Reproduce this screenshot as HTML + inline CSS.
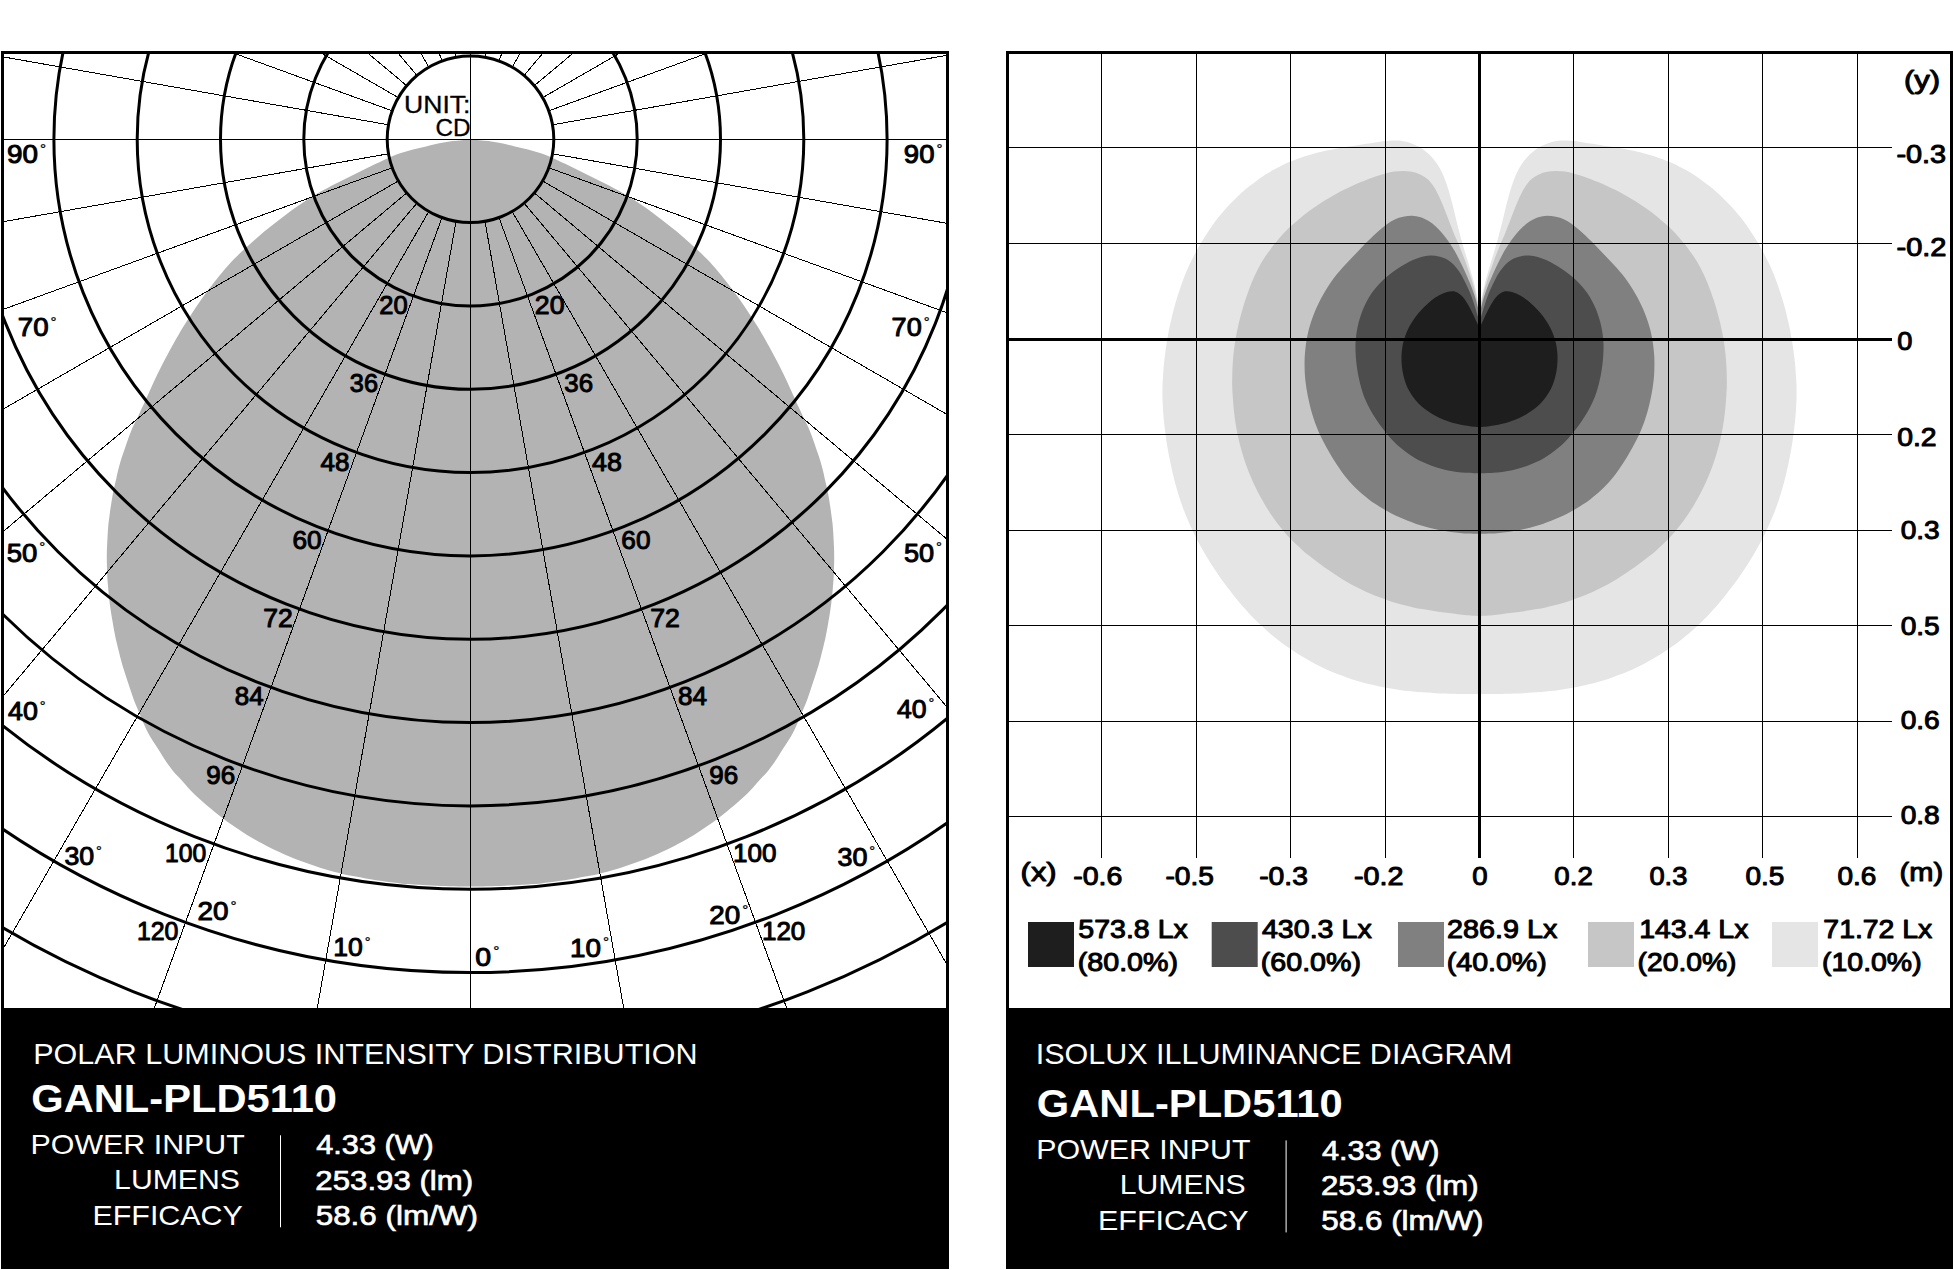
<!DOCTYPE html>
<html lang="en">
<head>
<meta charset="utf-8">
<title>GANL-PLD5110 photometric diagrams</title>
<style>
html,body{margin:0;padding:0;background:#fff;}
body{width:1954px;height:1270px;overflow:hidden;}
svg{display:block;position:absolute;left:0;top:0;}
text{font-family:"Liberation Sans",sans-serif;}
.k text{stroke:#000;stroke-width:1.05px;stroke-linejoin:round;}
.v{stroke:#fff;stroke-width:.7px;}
</style>
</head>
<body>
<svg width="1954" height="1270" viewBox="0 0 1954 1270">
<rect width="1954" height="1270" fill="#fff"/>
<!-- polar diagram -->
<clipPath id="pc"><rect x="2.5" y="52.5" width="945" height="955.5"/></clipPath>
<g clip-path="url(#pc)">
<path d="M470.5 139.3C472.0 139.4 476.5 139.9 479.5 140.2C482.4 140.5 485.4 140.7 488.4 141.1C491.4 141.5 494.3 142.0 497.3 142.6C500.2 143.1 503.2 143.7 506.1 144.3C509.0 145.0 511.9 145.7 514.9 146.4C517.8 147.1 520.7 147.8 523.6 148.6C526.5 149.3 529.4 150.0 532.3 150.8C535.2 151.6 538.1 152.4 540.9 153.3C543.8 154.3 546.5 155.4 549.3 156.6C552.1 157.7 554.8 159.1 557.5 160.3C560.2 161.6 562.9 162.8 565.7 164.1C568.4 165.4 571.1 166.7 573.8 168.0C576.5 169.3 579.1 170.6 581.8 172.0C584.5 173.3 587.2 174.7 589.9 176.0C592.6 177.3 595.2 178.7 597.9 180.0C600.6 181.4 603.3 182.7 606.0 184.1C608.6 185.4 611.3 186.8 613.9 188.2C616.6 189.6 619.3 191.0 621.9 192.5C624.5 194.0 627.1 195.5 629.6 197.1C632.2 198.7 634.7 200.3 637.2 202.0C639.6 203.6 642.1 205.4 644.6 207.1C647.0 208.8 649.5 210.5 651.9 212.3C654.3 214.1 656.7 215.9 659.1 217.7C661.5 219.5 663.9 221.3 666.2 223.2C668.6 225.0 670.9 226.9 673.2 228.8C675.6 230.7 677.9 232.6 680.2 234.6C682.5 236.5 684.7 238.5 687.0 240.4C689.2 242.4 691.5 244.4 693.7 246.4C695.9 248.4 698.1 250.5 700.3 252.5C702.5 254.6 704.6 256.7 706.7 258.8C708.8 261.0 710.9 263.2 712.9 265.4C714.9 267.6 716.8 269.9 718.7 272.2C720.7 274.5 722.6 276.8 724.4 279.2C726.3 281.6 728.1 284.0 729.9 286.3C731.7 288.7 733.5 291.1 735.3 293.6C737.1 296.0 738.8 298.4 740.6 300.8C742.3 303.3 744.1 305.7 745.7 308.2C747.4 310.7 749.0 313.2 750.6 315.7C752.3 318.3 753.9 320.8 755.5 323.3C757.1 325.9 758.7 328.4 760.3 330.9C761.8 333.5 763.3 336.1 764.8 338.7C766.3 341.3 767.7 344.0 769.1 346.6C770.6 349.2 772.0 351.9 773.4 354.5C774.9 357.1 776.3 359.8 777.7 362.5C779.1 365.1 780.4 367.8 781.7 370.5C783.1 373.2 784.4 375.9 785.6 378.6C786.9 381.3 788.1 384.0 789.4 386.8C790.6 389.5 791.9 392.2 793.1 395.0C794.4 397.7 795.6 400.4 796.8 403.2C798.1 405.9 799.3 408.6 800.6 411.3C801.8 414.1 803.1 416.8 804.5 419.5C805.8 422.2 807.2 424.8 808.4 427.5C809.6 430.3 810.7 433.1 811.8 435.9C812.8 438.7 813.8 441.5 814.8 444.4C815.7 447.2 816.7 450.0 817.7 452.9C818.7 455.7 819.7 458.5 820.5 461.4C821.3 464.3 822.1 467.2 822.8 470.1C823.5 473.0 824.2 475.9 824.8 478.9C825.5 481.8 826.2 484.7 826.8 487.6C827.5 490.6 828.1 493.5 828.6 496.4C829.2 499.4 829.6 502.4 830.0 505.3C830.5 508.3 830.9 511.3 831.3 514.2C831.7 517.2 832.1 520.2 832.5 523.2C832.8 526.1 833.0 529.1 833.2 532.1C833.4 535.1 833.5 538.1 833.7 541.1C833.8 544.1 834.0 547.1 834.1 550.1C834.2 553.1 834.2 556.1 834.2 559.1C834.2 562.1 834.1 565.1 834.0 568.1C833.9 571.1 833.8 574.1 833.7 577.1C833.5 580.1 833.3 583.1 833.0 586.1C832.8 589.0 832.5 592.0 832.2 595.0C831.8 598.0 831.6 601.0 831.2 604.0C830.8 606.9 830.3 609.9 829.9 612.9C829.4 615.8 828.9 618.8 828.4 621.7C827.9 624.7 827.4 627.7 826.9 630.6C826.3 633.6 825.7 636.5 825.1 639.4C824.4 642.3 823.7 645.2 823.0 648.2C822.2 651.1 821.5 654.0 820.8 656.9C820.0 659.8 819.3 662.7 818.5 665.6C817.6 668.5 816.7 671.3 815.7 674.2C814.8 677.0 813.9 679.9 812.9 682.7C812.0 685.5 811.0 688.4 810.1 691.2C809.1 694.1 808.2 696.9 807.2 699.8C806.1 702.6 805.0 705.3 803.8 708.1C802.7 710.9 801.5 713.6 800.3 716.4C799.2 719.2 798.0 721.9 796.8 724.7C795.6 727.4 794.4 730.2 793.0 732.8C791.6 735.4 790.0 738.0 788.4 740.5C786.8 743.1 785.2 745.6 783.5 748.1C781.9 750.6 780.3 753.1 778.7 755.7C777.0 758.2 775.5 760.7 773.8 763.2C772.0 765.6 770.3 768.0 768.4 770.4C766.5 772.7 764.4 774.9 762.4 777.1C760.4 779.3 758.4 781.5 756.3 783.7C754.3 786.0 752.3 788.2 750.3 790.4C748.2 792.6 746.1 794.7 743.9 796.7C741.7 798.8 739.4 800.7 737.2 802.7C734.9 804.6 732.6 806.6 730.3 808.5C728.0 810.4 725.7 812.4 723.4 814.3C721.1 816.1 718.7 818.0 716.3 819.7C713.8 821.5 711.4 823.2 708.9 824.9C706.4 826.6 704.0 828.4 701.5 830.1C699.0 831.7 696.5 833.4 694.0 835.0C691.4 836.5 688.8 837.9 686.2 839.4C683.5 840.9 680.9 842.3 678.3 843.7C675.6 845.2 673.0 846.6 670.3 847.9C667.6 849.3 664.9 850.5 662.2 851.7C659.4 853.0 656.7 854.2 654.0 855.4C651.2 856.6 648.5 857.9 645.7 859.0C642.9 860.1 640.1 861.1 637.3 862.1C634.5 863.1 631.6 864.1 628.8 865.1C625.9 866.1 623.1 867.0 620.2 867.9C617.4 868.8 614.5 869.6 611.6 870.4C608.7 871.2 605.8 872.0 602.9 872.7C600.0 873.5 597.1 874.2 594.2 874.9C591.2 875.5 588.3 876.0 585.3 876.6C582.4 877.1 579.4 877.7 576.5 878.2C573.5 878.7 570.6 879.2 567.6 879.7C564.6 880.2 561.7 880.6 558.7 881.0C555.7 881.5 552.8 882.0 549.8 882.3C546.8 882.7 543.9 883.1 540.9 883.4C537.9 883.7 534.9 883.9 531.9 884.1C528.9 884.4 525.9 884.6 522.9 884.8C519.9 885.0 516.9 885.2 513.9 885.3C510.9 885.4 507.9 885.6 504.9 885.7C502.0 885.8 499.0 885.9 496.0 886.0C493.0 886.1 489.9 886.2 487.0 886.2C484.0 886.3 480.8 886.4 478.1 886.4C475.3 886.5 473.0 886.5 470.5 886.5C468.0 886.5 465.7 886.5 462.9 886.4C460.2 886.4 457.0 886.3 454.0 886.2C451.1 886.2 448.0 886.1 445.0 886.0C442.0 885.9 439.0 885.8 436.1 885.7C433.1 885.6 430.1 885.4 427.1 885.3C424.1 885.2 421.1 885.0 418.1 884.8C415.1 884.6 412.1 884.4 409.1 884.1C406.1 883.9 403.1 883.7 400.1 883.4C397.1 883.1 394.2 882.7 391.2 882.3C388.2 882.0 385.3 881.5 382.3 881.0C379.3 880.6 376.4 880.2 373.4 879.7C370.4 879.2 367.5 878.7 364.5 878.2C361.6 877.7 358.6 877.1 355.7 876.6C352.7 876.0 349.8 875.5 346.8 874.9C343.9 874.2 341.0 873.5 338.1 872.7C335.2 872.0 332.3 871.2 329.4 870.4C326.5 869.6 323.6 868.8 320.8 867.9C317.9 867.0 315.1 866.1 312.2 865.1C309.4 864.1 306.5 863.1 303.7 862.1C300.9 861.1 298.1 860.1 295.3 859.0C292.5 857.9 289.8 856.6 287.0 855.4C284.3 854.2 281.6 853.0 278.8 851.7C276.1 850.5 273.4 849.3 270.7 847.9C268.0 846.6 265.4 845.2 262.7 843.7C260.1 842.3 257.5 840.9 254.8 839.4C252.2 837.9 249.6 836.5 247.0 835.0C244.5 833.4 242.0 831.7 239.5 830.1C237.0 828.4 234.6 826.6 232.1 824.9C229.6 823.2 227.2 821.5 224.7 819.7C222.3 818.0 219.9 816.1 217.6 814.3C215.3 812.4 213.0 810.4 210.7 808.5C208.4 806.6 206.1 804.6 203.8 802.7C201.6 800.7 199.3 798.8 197.1 796.7C194.9 794.7 192.8 792.6 190.7 790.4C188.7 788.2 186.7 786.0 184.7 783.7C182.6 781.5 180.6 779.3 178.6 777.1C176.6 774.9 174.5 772.7 172.6 770.4C170.7 768.0 169.0 765.6 167.2 763.2C165.5 760.7 164.0 758.2 162.3 755.7C160.7 753.1 159.1 750.6 157.5 748.1C155.8 745.6 154.2 743.1 152.6 740.5C151.0 738.0 149.4 735.4 148.0 732.8C146.6 730.2 145.4 727.4 144.2 724.7C143.0 721.9 141.8 719.2 140.7 716.4C139.5 713.6 138.3 710.9 137.2 708.1C136.0 705.3 134.9 702.6 133.8 699.8C132.8 696.9 131.9 694.1 130.9 691.2C130.0 688.4 129.0 685.5 128.1 682.7C127.1 679.9 126.2 677.0 125.3 674.2C124.3 671.3 123.4 668.5 122.5 665.6C121.7 662.7 121.0 659.8 120.2 656.9C119.5 654.0 118.8 651.1 118.0 648.2C117.3 645.2 116.6 642.3 115.9 639.4C115.3 636.5 114.7 633.6 114.1 630.6C113.6 627.7 113.1 624.7 112.6 621.7C112.1 618.8 111.6 615.8 111.1 612.9C110.7 609.9 110.2 606.9 109.8 604.0C109.4 601.0 109.2 598.0 108.8 595.0C108.5 592.0 108.2 589.0 108.0 586.1C107.7 583.1 107.5 580.1 107.3 577.1C107.2 574.1 107.1 571.1 107.0 568.1C106.9 565.1 106.8 562.1 106.8 559.1C106.8 556.1 106.8 553.1 106.9 550.1C107.0 547.1 107.2 544.1 107.3 541.1C107.5 538.1 107.6 535.1 107.8 532.1C108.0 529.1 108.2 526.1 108.5 523.2C108.9 520.2 109.3 517.2 109.7 514.2C110.1 511.3 110.5 508.3 111.0 505.3C111.4 502.4 111.8 499.4 112.4 496.4C112.9 493.5 113.5 490.6 114.2 487.6C114.8 484.7 115.5 481.8 116.2 478.9C116.8 475.9 117.5 473.0 118.2 470.1C118.9 467.2 119.7 464.3 120.5 461.4C121.3 458.5 122.3 455.7 123.3 452.9C124.3 450.0 125.3 447.2 126.2 444.4C127.2 441.5 128.2 438.7 129.2 435.9C130.3 433.1 131.4 430.3 132.6 427.5C133.8 424.8 135.2 422.2 136.5 419.5C137.9 416.8 139.2 414.1 140.4 411.3C141.7 408.6 142.9 405.9 144.2 403.2C145.4 400.4 146.6 397.7 147.9 395.0C149.1 392.2 150.4 389.5 151.6 386.8C152.9 384.0 154.1 381.3 155.4 378.6C156.6 375.9 157.9 373.2 159.3 370.5C160.6 367.8 161.9 365.1 163.3 362.5C164.7 359.8 166.1 357.1 167.6 354.5C169.0 351.9 170.4 349.2 171.9 346.6C173.3 344.0 174.7 341.3 176.2 338.7C177.7 336.1 179.2 333.5 180.7 330.9C182.3 328.4 183.9 325.9 185.5 323.3C187.1 320.8 188.7 318.3 190.4 315.7C192.0 313.2 193.6 310.7 195.3 308.2C196.9 305.7 198.7 303.3 200.4 300.8C202.2 298.4 203.9 296.0 205.7 293.6C207.5 291.1 209.3 288.7 211.1 286.3C212.9 284.0 214.7 281.6 216.6 279.2C218.4 276.8 220.3 274.5 222.3 272.2C224.2 269.9 226.1 267.6 228.1 265.4C230.1 263.2 232.2 261.0 234.3 258.8C236.4 256.7 238.5 254.6 240.7 252.5C242.9 250.5 245.1 248.4 247.3 246.4C249.5 244.4 251.8 242.4 254.0 240.4C256.3 238.5 258.5 236.5 260.8 234.6C263.1 232.6 265.4 230.7 267.8 228.8C270.1 226.9 272.4 225.0 274.8 223.2C277.1 221.3 279.5 219.5 281.9 217.7C284.3 215.9 286.7 214.1 289.1 212.3C291.5 210.5 294.0 208.8 296.4 207.1C298.9 205.4 301.4 203.6 303.8 202.0C306.3 200.3 308.8 198.7 311.4 197.1C313.9 195.5 316.5 194.0 319.1 192.5C321.7 191.0 324.4 189.6 327.1 188.2C329.7 186.8 332.4 185.4 335.0 184.1C337.7 182.7 340.4 181.4 343.1 180.0C345.8 178.7 348.4 177.3 351.1 176.0C353.8 174.7 356.5 173.3 359.2 172.0C361.9 170.6 364.5 169.3 367.2 168.0C369.9 166.7 372.6 165.4 375.3 164.1C378.1 162.8 380.8 161.6 383.5 160.3C386.2 159.1 388.9 157.7 391.7 156.6C394.5 155.4 397.2 154.3 400.1 153.3C402.9 152.4 405.8 151.6 408.7 150.8C411.6 150.0 414.5 149.3 417.4 148.6C420.3 147.8 423.2 147.1 426.1 146.4C429.1 145.7 432.0 145.0 434.9 144.3C437.8 143.7 440.8 143.1 443.7 142.6C446.7 142.0 449.6 141.5 452.6 141.1C455.6 140.7 458.6 140.5 461.5 140.2C464.5 139.9 469.0 139.4 470.5 139.3Z" fill="#b3b3b3"/>
<g stroke="#000" stroke-width="1" fill="none">
<path d="M485.0 221.4L661.5 1222.6M499.0 217.6L846.7 1173.0M512.2 211.5L1020.5 1091.9M524.1 203.1L1177.6 981.9M534.3 192.9L1313.1 846.4M542.7 181.0L1423.1 689.3M548.8 167.8L1504.2 515.5M552.6 153.8L1553.8 330.3M552.6 124.8L1553.8 -51.7M548.8 110.8L1504.2 -236.9M542.7 97.6L1423.1 -410.7M534.3 85.7L1313.1 -567.8M524.1 75.5L1177.6 -703.3M512.2 67.1L1020.5 -813.3M499.0 61.0L846.7 -894.4M485.0 57.2L661.5 -944.0M456.0 57.2L279.5 -944.0M442.0 61.0L94.3 -894.4M428.8 67.1L-79.5 -813.3M416.9 75.5L-236.6 -703.3M406.7 85.7L-372.1 -567.8M398.3 97.6L-482.1 -410.7M392.2 110.8L-563.2 -236.9M388.4 124.8L-612.8 -51.7M388.4 153.8L-612.8 330.3M392.2 167.8L-563.2 515.5M398.3 181.0L-482.1 689.3M406.7 192.9L-372.1 846.4M416.9 203.1L-236.6 981.9M428.8 211.5L-79.5 1091.9M442.0 217.6L94.3 1173.0M456.0 221.4L279.5 1222.6" shape-rendering="crispEdges"/>
<path d="M470.5 52.5V1008M2.5 139.3H947.5" shape-rendering="crispEdges"/>
</g>
<g stroke="#000" stroke-width="3" fill="none">
<circle cx="470.5" cy="139.3" r="83.3"/>
<circle cx="470.5" cy="139.3" r="166.7"/>
<circle cx="470.5" cy="139.3" r="250.0"/>
<circle cx="470.5" cy="139.3" r="333.3"/>
<circle cx="470.5" cy="139.3" r="416.6"/>
<circle cx="470.5" cy="139.3" r="500.0"/>
<circle cx="470.5" cy="139.3" r="583.3"/>
<circle cx="470.5" cy="139.3" r="666.6"/>
<circle cx="470.5" cy="139.3" r="750.0"/>
<circle cx="470.5" cy="139.3" r="833.3"/>
<circle cx="470.5" cy="139.3" r="916.6"/>
</g>
</g>
<rect x="2.5" y="52.5" width="945" height="1215" fill="none" stroke="#000" stroke-width="3"/>
<rect x="1" y="1008" width="948" height="261" fill="#000"/>
<g class="k">
<text transform="translate(7.02 163.03) scale(1.0459 1)" font-size="26.6">90<tspan font-size="14.5" dx="1.9" dy="-9.4" style="stroke-width:.3px">°</tspan></text>
<text transform="translate(17.79 336.33) scale(1.0400 1)" font-size="26.6">70<tspan font-size="14.5" dx="1.9" dy="-9.4" style="stroke-width:.3px">°</tspan></text>
<text transform="translate(6.67 561.73) scale(1.0336 1)" font-size="26.6">50<tspan font-size="14.5" dx="1.9" dy="-9.4" style="stroke-width:.3px">°</tspan></text>
<text transform="translate(8.04 719.93) scale(1.0068 1)" font-size="26.6">40<tspan font-size="14.5" dx="1.9" dy="-9.4" style="stroke-width:.3px">°</tspan></text>
<text transform="translate(64.50 865.23) scale(1.0045 1)" font-size="26.6">30<tspan font-size="14.5" dx="1.9" dy="-9.4" style="stroke-width:.3px">°</tspan></text>
<text transform="translate(197.48 919.93) scale(1.0473 1)" font-size="26.6">20<tspan font-size="14.5" dx="1.9" dy="-9.4" style="stroke-width:.3px">°</tspan></text>
<text transform="translate(333.28 956.13) scale(0.9983 1)" font-size="26.6">10<tspan font-size="14.5" dx="1.9" dy="-9.4" style="stroke-width:.3px">°</tspan></text>
<text transform="translate(475.33 965.53) scale(1.0695 1)" font-size="26.6">0<tspan font-size="14.5" dx="1.9" dy="-9.4" style="stroke-width:.3px">°</tspan></text>
<text transform="translate(903.83 163.33) scale(1.0349 1)" font-size="26.6">90<tspan font-size="14.5" dx="1.9" dy="-9.4" style="stroke-width:.3px">°</tspan></text>
<text transform="translate(891.62 336.43) scale(1.0180 1)" font-size="26.6">70<tspan font-size="14.5" dx="1.9" dy="-9.4" style="stroke-width:.3px">°</tspan></text>
<text transform="translate(903.99 561.73) scale(1.0190 1)" font-size="26.6">50<tspan font-size="14.5" dx="1.9" dy="-9.4" style="stroke-width:.3px">°</tspan></text>
<text transform="translate(896.94 717.53) scale(0.9997 1)" font-size="26.6">40<tspan font-size="14.5" dx="1.9" dy="-9.4" style="stroke-width:.3px">°</tspan></text>
<text transform="translate(837.50 865.53) scale(1.0118 1)" font-size="26.6">30<tspan font-size="14.5" dx="1.9" dy="-9.4" style="stroke-width:.3px">°</tspan></text>
<text transform="translate(709.28 923.93) scale(1.0436 1)" font-size="26.6">20<tspan font-size="14.5" dx="1.9" dy="-9.4" style="stroke-width:.3px">°</tspan></text>
<text transform="translate(569.98 956.53) scale(1.0472 1)" font-size="26.6">10<tspan font-size="14.5" dx="1.9" dy="-9.4" style="stroke-width:.3px">°</tspan></text>
<text transform="translate(379.2 313.93) scale(0.9593 1)" font-size="26.6">20</text>
<text transform="translate(534.84 313.93) scale(1.0033 1)" font-size="26.6">20</text>
<text transform="translate(349.86 392.23) scale(0.951 1)" font-size="26.6">36</text>
<text transform="translate(564.24 392.23) scale(0.9729 1)" font-size="26.6">36</text>
<text transform="translate(320.45 470.53) scale(0.9758 1)" font-size="26.6">48</text>
<text transform="translate(592.04 470.53) scale(1.0081 1)" font-size="26.6">48</text>
<text transform="translate(292.46 548.83) scale(0.985 1)" font-size="26.6">60</text>
<text transform="translate(621.36 548.83) scale(0.985 1)" font-size="26.6">60</text>
<text transform="translate(263.14 627.13) scale(0.9996 1)" font-size="26.6">72</text>
<text transform="translate(650.14 627.13) scale(1.0033 1)" font-size="26.6">72</text>
<text transform="translate(234.8 705.43) scale(0.9754 1)" font-size="26.6">84</text>
<text transform="translate(677.9 705.43) scale(0.9791 1)" font-size="26.6">84</text>
<text transform="translate(206.2 783.73) scale(0.9776 1)" font-size="26.6">96</text>
<text transform="translate(709.3 783.73) scale(0.9776 1)" font-size="26.6">96</text>
<text transform="translate(165.12 862.03) scale(0.9273 1)" font-size="26.6">100</text>
<text transform="translate(733.02 862.03) scale(0.978 1)" font-size="26.6">100</text>
<text transform="translate(136.9 940.33) scale(0.9369 1)" font-size="26.6">120</text>
<text transform="translate(761.92 940.33) scale(0.978 1)" font-size="26.6">120</text>
<text transform="translate(404.04 112.56) scale(1.1457 1)" font-size="23.2" style="stroke-width:.3px">UNIT:</text>
<text transform="translate(435.42 136.37) scale(1.0457 1)" font-size="23.2" style="stroke-width:.3px">CD</text>
</g>
<text transform="translate(33.26 1064.1) scale(1.0566 1)" font-size="28.9" fill="#fff">POLAR LUMINOUS INTENSITY DISTRIBUTION</text>
<text transform="translate(31.23 1112.2) scale(1.0529 1)" font-size="39.6" font-weight="bold" fill="#fff">GANL-PLD5110</text>
<text transform="translate(30.57 1154.2) scale(1.085 1)" font-size="28" fill="#fff">POWER INPUT</text>
<text transform="translate(114.08 1189.1) scale(1.0794 1)" font-size="28" fill="#fff">LUMENS</text>
<text transform="translate(92.47 1225.3) scale(1.0865 1)" font-size="28" fill="#fff">EFFICACY</text>
<rect x="280" y="1135.3" width="1" height="92" fill="#fff"/>
<text transform="translate(316.3 1154.48) scale(1.1028 1)" font-size="27.8" fill="#fff" class="v">4.33 (W)</text>
<text transform="translate(315.36 1189.58) scale(1.1222 1)" font-size="27.8" fill="#fff" class="v">253.93 (lm)</text>
<text transform="translate(315.66 1225.28) scale(1.1304 1)" font-size="27.8" fill="#fff" class="v">58.6 (lm/W)</text>
<!-- isolux diagram -->
<path d="M1479.5 311.0C1479.3 309.5 1478.6 305.1 1478.1 302.1C1477.6 299.2 1477.1 296.2 1476.5 293.3C1475.8 290.3 1475.1 287.4 1474.4 284.5C1473.7 281.6 1472.9 278.7 1472.0 275.8C1471.2 272.9 1470.4 270.1 1469.5 267.2C1468.7 264.3 1467.8 261.4 1466.9 258.6C1466.0 255.7 1465.1 252.8 1464.3 250.0C1463.4 247.1 1462.5 244.2 1461.7 241.3C1460.9 238.5 1460.2 235.5 1459.5 232.6C1458.7 229.7 1457.9 226.8 1457.2 223.9C1456.5 221.0 1455.8 218.1 1455.1 215.2C1454.4 212.2 1453.7 209.3 1453.0 206.4C1452.2 203.5 1451.5 200.6 1450.7 197.7C1449.9 194.8 1449.0 192.0 1448.2 189.1C1447.3 186.2 1446.4 183.4 1445.3 180.6C1444.3 177.8 1443.2 175.0 1441.9 172.3C1440.6 169.6 1439.1 167.0 1437.5 164.5C1435.9 162.0 1434.1 159.6 1432.1 157.4C1430.2 155.2 1428.0 153.2 1425.7 151.4C1423.4 149.5 1421.0 147.9 1418.4 146.5C1415.9 145.1 1413.2 143.9 1410.4 142.9C1407.7 142.0 1404.8 141.3 1402.0 140.9C1399.1 140.5 1396.1 140.4 1393.2 140.5C1390.3 140.5 1387.3 140.8 1384.3 141.1C1381.4 141.5 1378.4 142.0 1375.4 142.4C1372.5 142.8 1369.5 143.3 1366.6 143.8C1363.6 144.3 1360.6 144.8 1357.7 145.2C1354.7 145.7 1351.8 146.2 1348.8 146.6C1345.8 147.1 1342.9 147.6 1339.9 148.1C1337.0 148.6 1334.0 149.1 1331.1 149.7C1328.1 150.2 1325.2 150.8 1322.3 151.5C1319.3 152.2 1316.4 152.9 1313.6 153.7C1310.7 154.5 1307.8 155.4 1304.9 156.3C1302.1 157.2 1299.3 158.2 1296.4 159.2C1293.6 160.3 1290.9 161.4 1288.1 162.6C1285.4 163.8 1282.7 165.0 1280.0 166.4C1277.3 167.7 1274.7 169.1 1272.1 170.6C1269.5 172.1 1266.9 173.7 1264.4 175.3C1261.9 177.0 1259.5 178.7 1257.0 180.4C1254.6 182.2 1252.2 184.0 1249.9 185.8C1247.5 187.7 1245.2 189.6 1243.0 191.6C1240.8 193.6 1238.5 195.6 1236.4 197.7C1234.2 199.8 1232.1 201.9 1230.1 204.1C1228.0 206.2 1226.0 208.4 1224.0 210.7C1222.0 212.9 1220.1 215.3 1218.2 217.6C1216.4 219.9 1214.6 222.3 1212.8 224.8C1211.1 227.2 1209.4 229.7 1207.8 232.2C1206.1 234.7 1204.5 237.2 1203.0 239.8C1201.4 242.3 1199.9 244.9 1198.4 247.5C1196.9 250.1 1195.5 252.7 1194.1 255.4C1192.7 258.0 1191.3 260.7 1190.0 263.4C1188.8 266.1 1187.5 268.8 1186.4 271.6C1185.2 274.4 1184.1 277.2 1183.1 280.0C1182.0 282.8 1181.0 285.6 1180.1 288.4C1179.1 291.3 1178.2 294.1 1177.3 297.0C1176.4 299.9 1175.6 302.7 1174.8 305.6C1174.0 308.5 1173.2 311.4 1172.5 314.3C1171.8 317.2 1171.1 320.2 1170.5 323.1C1169.8 326.0 1169.2 328.9 1168.6 331.9C1168.1 334.8 1167.5 337.8 1167.0 340.7C1166.5 343.7 1166.1 346.7 1165.7 349.6C1165.3 352.6 1164.9 355.6 1164.5 358.6C1164.2 361.5 1163.9 364.5 1163.6 367.5C1163.4 370.5 1163.2 373.5 1163.0 376.5C1162.8 379.5 1162.6 382.5 1162.5 385.5C1162.4 388.4 1162.4 391.4 1162.4 394.4C1162.4 397.4 1162.5 400.4 1162.7 403.4C1162.8 406.4 1163.0 409.4 1163.2 412.4C1163.5 415.4 1163.7 418.4 1164.0 421.4C1164.3 424.3 1164.7 427.3 1165.0 430.3C1165.4 433.3 1165.8 436.2 1166.2 439.2C1166.6 442.2 1167.1 445.1 1167.6 448.1C1168.1 451.1 1168.6 454.0 1169.2 457.0C1169.8 459.9 1170.4 462.8 1171.0 465.8C1171.7 468.7 1172.3 471.6 1173.0 474.5C1173.7 477.4 1174.5 480.4 1175.2 483.3C1176.0 486.2 1176.8 489.0 1177.7 491.9C1178.5 494.8 1179.4 497.6 1180.4 500.5C1181.3 503.3 1182.3 506.1 1183.4 508.9C1184.4 511.7 1185.6 514.5 1186.7 517.3C1187.9 520.1 1189.1 522.8 1190.3 525.5C1191.5 528.3 1192.8 531.0 1194.1 533.7C1195.4 536.4 1196.8 539.1 1198.2 541.7C1199.6 544.4 1201.0 547.0 1202.5 549.6C1204.0 552.2 1205.5 554.8 1207.0 557.3C1208.6 559.9 1210.2 562.5 1211.8 565.0C1213.4 567.5 1215.1 570.0 1216.8 572.5C1218.4 575.0 1220.2 577.4 1221.9 579.9C1223.7 582.3 1225.4 584.7 1227.2 587.1C1229.0 589.5 1230.9 591.9 1232.7 594.2C1234.6 596.6 1236.5 598.9 1238.4 601.2C1240.3 603.5 1242.2 605.8 1244.2 608.1C1246.2 610.3 1248.2 612.5 1250.3 614.7C1252.4 616.9 1254.5 619.0 1256.6 621.1C1258.7 623.2 1260.9 625.3 1263.1 627.3C1265.3 629.3 1267.6 631.3 1269.8 633.3C1272.1 635.2 1274.4 637.1 1276.8 638.9C1279.1 640.8 1281.5 642.6 1283.9 644.4C1286.4 646.1 1288.8 647.9 1291.3 649.6C1293.8 651.2 1296.3 652.9 1298.8 654.5C1301.4 656.1 1303.9 657.6 1306.5 659.1C1309.1 660.6 1311.7 662.1 1314.4 663.5C1317.0 664.9 1319.7 666.2 1322.4 667.5C1325.1 668.8 1327.8 670.0 1330.6 671.2C1333.3 672.4 1336.1 673.5 1338.9 674.6C1341.7 675.7 1344.5 676.7 1347.4 677.7C1350.2 678.7 1353.0 679.6 1355.9 680.5C1358.8 681.4 1361.6 682.2 1364.5 683.0C1367.4 683.7 1370.3 684.5 1373.3 685.1C1376.2 685.8 1379.1 686.4 1382.1 687.0C1385.0 687.6 1388.0 688.1 1390.9 688.6C1393.9 689.1 1396.8 689.5 1399.8 689.9C1402.8 690.4 1405.8 690.7 1408.7 691.1C1411.7 691.4 1414.7 691.7 1417.7 692.0C1420.7 692.2 1423.7 692.4 1426.7 692.6C1429.6 692.8 1432.6 693.0 1435.6 693.2C1438.6 693.3 1441.6 693.4 1444.6 693.5C1447.6 693.7 1450.6 693.8 1453.6 693.8C1456.6 693.9 1459.6 694.0 1462.5 694.0C1465.4 694.1 1468.3 694.1 1471.2 694.1C1474.0 694.2 1476.7 694.2 1479.5 694.2C1482.3 694.2 1485.0 694.2 1487.8 694.1C1490.7 694.1 1493.6 694.1 1496.5 694.0C1499.4 694.0 1502.4 693.9 1505.4 693.8C1508.4 693.8 1511.4 693.7 1514.4 693.5C1517.4 693.4 1520.4 693.3 1523.4 693.2C1526.4 693.0 1529.4 692.8 1532.3 692.6C1535.3 692.4 1538.3 692.2 1541.3 692.0C1544.3 691.7 1547.3 691.4 1550.3 691.1C1553.2 690.7 1556.2 690.4 1559.2 689.9C1562.2 689.5 1565.1 689.1 1568.1 688.6C1571.0 688.1 1574.0 687.6 1576.9 687.0C1579.9 686.4 1582.8 685.8 1585.7 685.1C1588.7 684.5 1591.6 683.7 1594.5 683.0C1597.4 682.2 1600.2 681.4 1603.1 680.5C1606.0 679.6 1608.8 678.7 1611.6 677.7C1614.5 676.7 1617.3 675.7 1620.1 674.6C1622.9 673.5 1625.7 672.4 1628.4 671.2C1631.2 670.0 1633.9 668.8 1636.6 667.5C1639.3 666.2 1642.0 664.9 1644.6 663.5C1647.3 662.1 1649.9 660.6 1652.5 659.1C1655.1 657.6 1657.6 656.1 1660.2 654.5C1662.7 652.9 1665.2 651.2 1667.7 649.6C1670.2 647.9 1672.6 646.1 1675.1 644.4C1677.5 642.6 1679.9 640.8 1682.2 638.9C1684.6 637.1 1686.9 635.2 1689.2 633.3C1691.4 631.3 1693.7 629.3 1695.9 627.3C1698.1 625.3 1700.3 623.2 1702.4 621.1C1704.5 619.0 1706.6 616.9 1708.7 614.7C1710.8 612.5 1712.8 610.3 1714.8 608.1C1716.8 605.8 1718.7 603.5 1720.6 601.2C1722.5 598.9 1724.4 596.6 1726.3 594.2C1728.1 591.9 1730.0 589.5 1731.8 587.1C1733.6 584.7 1735.3 582.3 1737.1 579.9C1738.8 577.4 1740.6 575.0 1742.2 572.5C1743.9 570.0 1745.6 567.5 1747.2 565.0C1748.8 562.5 1750.4 559.9 1752.0 557.3C1753.5 554.8 1755.0 552.2 1756.5 549.6C1758.0 547.0 1759.4 544.4 1760.8 541.7C1762.2 539.1 1763.6 536.4 1764.9 533.7C1766.2 531.0 1767.5 528.3 1768.7 525.5C1769.9 522.8 1771.1 520.1 1772.3 517.3C1773.4 514.5 1774.6 511.7 1775.6 508.9C1776.7 506.1 1777.7 503.3 1778.6 500.5C1779.6 497.6 1780.5 494.8 1781.3 491.9C1782.2 489.0 1783.0 486.2 1783.8 483.3C1784.5 480.4 1785.3 477.4 1786.0 474.5C1786.7 471.6 1787.3 468.7 1788.0 465.8C1788.6 462.8 1789.2 459.9 1789.8 457.0C1790.4 454.0 1790.9 451.1 1791.4 448.1C1791.9 445.1 1792.4 442.2 1792.8 439.2C1793.2 436.2 1793.6 433.3 1794.0 430.3C1794.3 427.3 1794.7 424.3 1795.0 421.4C1795.3 418.4 1795.5 415.4 1795.8 412.4C1796.0 409.4 1796.2 406.4 1796.3 403.4C1796.5 400.4 1796.6 397.4 1796.6 394.4C1796.6 391.4 1796.6 388.4 1796.5 385.5C1796.4 382.5 1796.2 379.5 1796.0 376.5C1795.8 373.5 1795.6 370.5 1795.4 367.5C1795.1 364.5 1794.8 361.5 1794.5 358.6C1794.1 355.6 1793.7 352.6 1793.3 349.6C1792.9 346.7 1792.5 343.7 1792.0 340.7C1791.5 337.8 1790.9 334.8 1790.4 331.9C1789.8 328.9 1789.2 326.0 1788.5 323.1C1787.9 320.2 1787.2 317.2 1786.5 314.3C1785.8 311.4 1785.0 308.5 1784.2 305.6C1783.4 302.7 1782.6 299.9 1781.7 297.0C1780.8 294.1 1779.9 291.3 1778.9 288.4C1778.0 285.6 1777.0 282.8 1775.9 280.0C1774.9 277.2 1773.8 274.4 1772.6 271.6C1771.5 268.8 1770.2 266.1 1769.0 263.4C1767.7 260.7 1766.3 258.0 1764.9 255.4C1763.5 252.7 1762.1 250.1 1760.6 247.5C1759.1 244.9 1757.6 242.3 1756.0 239.8C1754.5 237.2 1752.9 234.7 1751.2 232.2C1749.6 229.7 1747.9 227.2 1746.2 224.8C1744.4 222.3 1742.6 219.9 1740.8 217.6C1738.9 215.3 1737.0 212.9 1735.0 210.7C1733.0 208.4 1731.0 206.2 1728.9 204.1C1726.9 201.9 1724.8 199.8 1722.6 197.7C1720.5 195.6 1718.2 193.6 1716.0 191.6C1713.8 189.6 1711.5 187.7 1709.1 185.8C1706.8 184.0 1704.4 182.2 1702.0 180.4C1699.5 178.7 1697.1 177.0 1694.6 175.3C1692.1 173.7 1689.5 172.1 1686.9 170.6C1684.3 169.1 1681.7 167.7 1679.0 166.4C1676.3 165.0 1673.6 163.8 1670.9 162.6C1668.1 161.4 1665.4 160.3 1662.6 159.2C1659.7 158.2 1656.9 157.2 1654.1 156.3C1651.2 155.4 1648.3 154.5 1645.4 153.7C1642.6 152.9 1639.7 152.2 1636.7 151.5C1633.8 150.8 1630.9 150.2 1627.9 149.7C1625.0 149.1 1622.0 148.6 1619.1 148.1C1616.1 147.6 1613.2 147.1 1610.2 146.6C1607.2 146.2 1604.3 145.7 1601.3 145.2C1598.4 144.8 1595.4 144.3 1592.4 143.8C1589.5 143.3 1586.5 142.8 1583.6 142.4C1580.6 142.0 1577.6 141.5 1574.7 141.1C1571.7 140.8 1568.7 140.5 1565.8 140.5C1562.9 140.4 1559.9 140.5 1557.0 140.9C1554.2 141.3 1551.3 142.0 1548.6 142.9C1545.8 143.9 1543.1 145.1 1540.6 146.5C1538.0 147.9 1535.6 149.5 1533.3 151.4C1531.0 153.2 1528.8 155.2 1526.9 157.4C1524.9 159.6 1523.1 162.0 1521.5 164.5C1519.9 167.0 1518.4 169.6 1517.1 172.3C1515.8 175.0 1514.7 177.8 1513.7 180.6C1512.6 183.4 1511.7 186.2 1510.8 189.1C1510.0 192.0 1509.1 194.8 1508.3 197.7C1507.5 200.6 1506.8 203.5 1506.0 206.4C1505.3 209.3 1504.6 212.2 1503.9 215.2C1503.2 218.1 1502.5 221.0 1501.8 223.9C1501.1 226.8 1500.3 229.7 1499.5 232.6C1498.8 235.5 1498.1 238.5 1497.3 241.3C1496.5 244.2 1495.6 247.1 1494.7 250.0C1493.9 252.8 1493.0 255.7 1492.1 258.6C1491.2 261.4 1490.3 264.3 1489.5 267.2C1488.6 270.1 1487.8 272.9 1487.0 275.8C1486.1 278.7 1485.3 281.6 1484.6 284.5C1483.9 287.4 1483.2 290.3 1482.5 293.3C1481.9 296.2 1481.4 299.2 1480.9 302.1C1480.4 305.1 1479.7 309.5 1479.5 311.0Z" fill="#e5e5e5"/>
<path d="M1479.5 312.0C1479.2 310.5 1478.4 306.1 1477.8 303.2C1477.2 300.2 1476.6 297.3 1475.8 294.4C1475.1 291.5 1474.3 288.6 1473.5 285.7C1472.6 282.8 1471.7 280.0 1470.8 277.1C1469.8 274.3 1468.8 271.4 1467.8 268.6C1466.8 265.8 1465.8 263.0 1464.8 260.1C1463.8 257.3 1462.7 254.5 1461.6 251.7C1460.6 248.9 1459.4 246.1 1458.3 243.4C1457.1 240.6 1455.8 237.9 1454.6 235.2C1453.5 232.4 1452.4 229.6 1451.3 226.8C1450.2 224.0 1449.2 221.2 1448.1 218.4C1447.0 215.6 1445.9 212.8 1444.8 210.0C1443.7 207.2 1442.6 204.4 1441.4 201.7C1440.2 198.9 1439.0 196.2 1437.6 193.5C1436.3 190.9 1434.9 188.2 1433.2 185.8C1431.5 183.4 1429.6 181.0 1427.4 179.1C1425.2 177.2 1422.7 175.6 1420.1 174.4C1417.5 173.2 1414.7 172.3 1411.8 171.8C1409.0 171.2 1406.1 171.0 1403.1 171.0C1400.2 171.0 1397.3 171.2 1394.3 171.6C1391.4 172.0 1388.5 172.7 1385.6 173.4C1382.7 174.1 1379.9 175.0 1377.0 175.9C1374.2 176.8 1371.4 177.8 1368.6 178.9C1365.8 180.0 1363.0 181.1 1360.3 182.3C1357.5 183.4 1354.8 184.7 1352.0 185.9C1349.3 187.2 1346.6 188.5 1343.9 189.8C1341.3 191.2 1338.6 192.5 1336.0 194.0C1333.3 195.4 1330.7 196.9 1328.2 198.4C1325.6 199.9 1323.0 201.5 1320.5 203.2C1318.0 204.8 1315.6 206.5 1313.1 208.3C1310.7 210.0 1308.3 211.8 1305.9 213.6C1303.6 215.5 1301.2 217.3 1298.9 219.2C1296.6 221.1 1294.3 223.1 1292.1 225.1C1289.9 227.1 1287.7 229.2 1285.6 231.3C1283.5 233.4 1281.5 235.6 1279.5 237.9C1277.6 240.1 1275.7 242.5 1273.8 244.8C1272.0 247.1 1270.2 249.5 1268.5 252.0C1266.7 254.4 1265.0 256.8 1263.5 259.3C1261.9 261.8 1260.4 264.3 1259.0 266.9C1257.6 269.5 1256.3 272.2 1255.0 274.9C1253.8 277.6 1252.6 280.4 1251.5 283.1C1250.4 285.9 1249.3 288.7 1248.3 291.5C1247.3 294.3 1246.3 297.2 1245.3 300.0C1244.4 302.9 1243.5 305.7 1242.7 308.6C1241.9 311.5 1241.1 314.4 1240.3 317.3C1239.5 320.2 1238.8 323.1 1238.2 326.0C1237.5 328.9 1236.9 331.9 1236.3 334.8C1235.7 337.7 1235.2 340.7 1234.8 343.7C1234.4 346.6 1234.0 349.6 1233.7 352.6C1233.3 355.6 1233.1 358.6 1232.9 361.5C1232.6 364.5 1232.5 367.5 1232.4 370.3C1232.3 373.2 1232.2 376.0 1232.2 378.5C1232.1 381.1 1232.1 383.4 1232.2 385.7C1232.2 388.1 1232.3 390.1 1232.5 392.5C1232.6 394.9 1232.8 397.3 1233.0 400.0C1233.2 402.6 1233.4 405.5 1233.7 408.4C1234.0 411.3 1234.3 414.3 1234.7 417.2C1235.1 420.2 1235.5 423.1 1236.0 426.1C1236.5 429.0 1237.1 432.0 1237.7 434.9C1238.3 437.9 1239.0 440.8 1239.7 443.7C1240.5 446.6 1241.2 449.5 1242.1 452.4C1242.9 455.2 1243.8 458.1 1244.8 460.9C1245.7 463.8 1246.7 466.6 1247.8 469.4C1248.9 472.2 1250.0 475.0 1251.2 477.7C1252.3 480.5 1253.6 483.2 1254.9 485.9C1256.1 488.6 1257.5 491.3 1258.9 494.0C1260.3 496.6 1261.7 499.2 1263.2 501.8C1264.7 504.4 1266.2 507.0 1267.8 509.6C1269.4 512.1 1271.1 514.6 1272.8 517.0C1274.5 519.5 1276.3 521.9 1278.1 524.3C1279.9 526.6 1281.8 528.9 1283.8 531.2C1285.7 533.5 1287.7 535.7 1289.8 537.9C1291.8 540.1 1294.0 542.2 1296.1 544.3C1298.3 546.4 1300.5 548.4 1302.7 550.4C1305.0 552.3 1307.3 554.3 1309.6 556.1C1311.9 558.0 1314.3 559.8 1316.7 561.6C1319.1 563.4 1321.6 565.1 1324.0 566.9C1326.5 568.6 1329.0 570.3 1331.4 571.9C1333.9 573.6 1336.4 575.3 1339.0 576.9C1341.5 578.5 1344.0 580.1 1346.6 581.7C1349.1 583.2 1351.7 584.7 1354.4 586.1C1357.0 587.5 1359.7 588.8 1362.4 590.1C1365.1 591.4 1367.8 592.6 1370.6 593.8C1373.4 595.0 1376.1 596.1 1378.9 597.1C1381.7 598.2 1384.6 599.2 1387.4 600.2C1390.2 601.1 1393.1 602.1 1396.0 602.9C1398.8 603.8 1401.7 604.6 1404.6 605.3C1407.5 606.1 1410.4 606.7 1413.4 607.4C1416.3 608.0 1419.2 608.6 1422.2 609.1C1425.1 609.7 1428.1 610.2 1431.1 610.6C1434.0 611.1 1437.0 611.5 1440.0 611.9C1442.9 612.3 1445.9 612.7 1448.9 613.1C1451.8 613.4 1454.8 613.8 1457.8 614.2C1460.7 614.5 1463.6 614.9 1466.4 615.2C1469.2 615.4 1472.2 615.7 1474.4 615.8C1476.6 616.0 1477.8 616.0 1479.5 616.0C1481.2 616.0 1482.4 616.0 1484.6 615.8C1486.8 615.7 1489.8 615.4 1492.6 615.2C1495.4 614.9 1498.3 614.5 1501.2 614.2C1504.2 613.8 1507.2 613.4 1510.1 613.1C1513.1 612.7 1516.1 612.3 1519.0 611.9C1522.0 611.5 1525.0 611.1 1527.9 610.6C1530.9 610.2 1533.9 609.7 1536.8 609.1C1539.8 608.6 1542.7 608.0 1545.6 607.4C1548.6 606.7 1551.5 606.1 1554.4 605.3C1557.3 604.6 1560.2 603.8 1563.0 602.9C1565.9 602.1 1568.8 601.1 1571.6 600.2C1574.4 599.2 1577.3 598.2 1580.1 597.1C1582.9 596.1 1585.6 595.0 1588.4 593.8C1591.2 592.6 1593.9 591.4 1596.6 590.1C1599.3 588.8 1602.0 587.5 1604.6 586.1C1607.3 584.7 1609.9 583.2 1612.4 581.7C1615.0 580.1 1617.5 578.5 1620.0 576.9C1622.6 575.3 1625.1 573.6 1627.6 571.9C1630.0 570.3 1632.5 568.6 1635.0 566.9C1637.4 565.1 1639.9 563.4 1642.3 561.6C1644.7 559.8 1647.1 558.0 1649.4 556.1C1651.7 554.3 1654.0 552.3 1656.3 550.4C1658.5 548.4 1660.7 546.4 1662.9 544.3C1665.0 542.2 1667.2 540.1 1669.2 537.9C1671.3 535.7 1673.3 533.5 1675.2 531.2C1677.2 528.9 1679.1 526.6 1680.9 524.3C1682.7 521.9 1684.5 519.5 1686.2 517.0C1687.9 514.6 1689.6 512.1 1691.2 509.6C1692.8 507.0 1694.3 504.4 1695.8 501.8C1697.3 499.2 1698.7 496.6 1700.1 494.0C1701.5 491.3 1702.9 488.6 1704.1 485.9C1705.4 483.2 1706.7 480.5 1707.8 477.7C1709.0 475.0 1710.1 472.2 1711.2 469.4C1712.3 466.6 1713.3 463.8 1714.2 460.9C1715.2 458.1 1716.1 455.2 1716.9 452.4C1717.8 449.5 1718.5 446.6 1719.3 443.7C1720.0 440.8 1720.7 437.9 1721.3 434.9C1721.9 432.0 1722.5 429.0 1723.0 426.1C1723.5 423.1 1723.9 420.2 1724.3 417.2C1724.7 414.3 1725.0 411.3 1725.3 408.4C1725.6 405.5 1725.8 402.6 1726.0 400.0C1726.2 397.3 1726.4 394.9 1726.5 392.5C1726.7 390.1 1726.8 388.1 1726.8 385.7C1726.9 383.4 1726.9 381.1 1726.8 378.5C1726.8 376.0 1726.7 373.2 1726.6 370.3C1726.5 367.5 1726.4 364.5 1726.1 361.5C1725.9 358.6 1725.7 355.6 1725.3 352.6C1725.0 349.6 1724.6 346.6 1724.2 343.7C1723.8 340.7 1723.3 337.7 1722.7 334.8C1722.1 331.9 1721.5 328.9 1720.8 326.0C1720.2 323.1 1719.5 320.2 1718.7 317.3C1717.9 314.4 1717.1 311.5 1716.3 308.6C1715.5 305.7 1714.6 302.9 1713.7 300.0C1712.7 297.2 1711.7 294.3 1710.7 291.5C1709.7 288.7 1708.6 285.9 1707.5 283.1C1706.4 280.4 1705.2 277.6 1704.0 274.9C1702.7 272.2 1701.4 269.5 1700.0 266.9C1698.6 264.3 1697.1 261.8 1695.5 259.3C1694.0 256.8 1692.3 254.4 1690.5 252.0C1688.8 249.5 1687.0 247.1 1685.2 244.8C1683.3 242.5 1681.4 240.1 1679.5 237.9C1677.5 235.6 1675.5 233.4 1673.4 231.3C1671.3 229.2 1669.1 227.1 1666.9 225.1C1664.7 223.1 1662.4 221.1 1660.1 219.2C1657.8 217.3 1655.4 215.5 1653.1 213.6C1650.7 211.8 1648.3 210.0 1645.9 208.3C1643.4 206.5 1641.0 204.8 1638.5 203.2C1636.0 201.5 1633.4 199.9 1630.8 198.4C1628.3 196.9 1625.7 195.4 1623.0 194.0C1620.4 192.5 1617.7 191.2 1615.1 189.8C1612.4 188.5 1609.7 187.2 1607.0 185.9C1604.2 184.7 1601.5 183.4 1598.7 182.3C1596.0 181.1 1593.2 180.0 1590.4 178.9C1587.6 177.8 1584.8 176.8 1582.0 175.9C1579.1 175.0 1576.3 174.1 1573.4 173.4C1570.5 172.7 1567.6 172.0 1564.7 171.6C1561.7 171.2 1558.8 171.0 1555.9 171.0C1552.9 171.0 1550.0 171.2 1547.2 171.8C1544.3 172.3 1541.5 173.2 1538.9 174.4C1536.3 175.6 1533.8 177.2 1531.6 179.1C1529.4 181.0 1527.5 183.4 1525.8 185.8C1524.1 188.2 1522.7 190.9 1521.4 193.5C1520.0 196.2 1518.8 198.9 1517.6 201.7C1516.4 204.4 1515.3 207.2 1514.2 210.0C1513.1 212.8 1512.0 215.6 1510.9 218.4C1509.8 221.2 1508.8 224.0 1507.7 226.8C1506.6 229.6 1505.5 232.4 1504.4 235.2C1503.2 237.9 1501.9 240.6 1500.7 243.4C1499.6 246.1 1498.4 248.9 1497.4 251.7C1496.3 254.5 1495.2 257.3 1494.2 260.1C1493.2 263.0 1492.2 265.8 1491.2 268.6C1490.2 271.4 1489.2 274.3 1488.2 277.1C1487.3 280.0 1486.4 282.8 1485.5 285.7C1484.7 288.6 1483.9 291.5 1483.2 294.4C1482.4 297.3 1481.8 300.2 1481.2 303.2C1480.6 306.1 1479.8 310.5 1479.5 312.0Z" fill="#c6c6c6"/>
<path d="M1479.5 314.0C1479.1 312.5 1478.1 308.2 1477.3 305.3C1476.6 302.4 1475.8 299.5 1474.9 296.6C1473.9 293.8 1473.0 290.9 1471.9 288.1C1470.9 285.3 1469.7 282.5 1468.5 279.8C1467.4 277.0 1466.2 274.3 1464.9 271.5C1463.7 268.8 1462.4 266.1 1461.1 263.4C1459.8 260.7 1458.5 258.0 1457.1 255.4C1455.6 252.7 1454.1 250.1 1452.5 247.6C1450.9 245.0 1449.3 242.6 1447.5 240.1C1445.7 237.7 1444.0 235.3 1442.0 233.0C1440.1 230.7 1438.1 228.5 1435.8 226.5C1433.6 224.5 1431.2 222.7 1428.7 221.1C1426.2 219.6 1423.5 218.1 1420.7 217.2C1417.9 216.4 1414.9 215.9 1412.0 215.8C1409.0 215.8 1406.0 216.1 1403.2 216.7C1400.3 217.3 1397.4 218.2 1394.7 219.4C1392.1 220.6 1389.6 222.2 1387.2 223.9C1384.8 225.6 1382.6 227.6 1380.3 229.5C1378.0 231.4 1375.8 233.4 1373.6 235.4C1371.4 237.5 1369.3 239.6 1367.1 241.7C1365.0 243.8 1363.0 246.0 1360.9 248.2C1358.8 250.3 1356.8 252.5 1354.7 254.7C1352.6 256.9 1350.6 259.0 1348.5 261.2C1346.5 263.4 1344.4 265.6 1342.4 267.8C1340.4 270.1 1338.5 272.3 1336.6 274.6C1334.8 277.0 1333.0 279.4 1331.2 281.8C1329.5 284.3 1327.9 286.8 1326.3 289.3C1324.7 291.9 1323.2 294.5 1321.8 297.1C1320.4 299.7 1319.0 302.4 1317.8 305.1C1316.5 307.8 1315.3 310.5 1314.2 313.3C1313.1 316.1 1312.0 318.9 1311.1 321.7C1310.2 324.6 1309.3 327.5 1308.6 330.3C1307.9 333.2 1307.3 336.2 1306.7 339.1C1306.2 342.0 1305.8 345.0 1305.5 348.0C1305.1 350.9 1304.9 353.9 1304.7 356.9C1304.6 359.9 1304.5 362.9 1304.6 365.9C1304.6 368.9 1304.7 371.9 1304.9 374.9C1305.1 377.8 1305.4 380.8 1305.8 383.8C1306.2 386.7 1306.6 389.7 1307.2 392.7C1307.7 395.6 1308.3 398.5 1309.0 401.5C1309.6 404.4 1310.3 407.3 1311.1 410.2C1311.9 413.1 1312.8 415.9 1313.7 418.8C1314.6 421.6 1315.6 424.4 1316.8 427.2C1317.9 430.0 1319.1 432.7 1320.3 435.4C1321.6 438.1 1323.0 440.8 1324.4 443.4C1325.8 446.1 1327.2 448.7 1328.7 451.3C1330.2 453.9 1331.7 456.5 1333.2 459.1C1334.8 461.6 1336.4 464.2 1338.1 466.6C1339.8 469.1 1341.5 471.5 1343.3 473.9C1345.1 476.3 1347.0 478.6 1349.0 480.9C1350.9 483.1 1353.0 485.3 1355.1 487.5C1357.2 489.6 1359.3 491.6 1361.6 493.6C1363.8 495.5 1366.2 497.4 1368.6 499.2C1370.9 501.0 1373.4 502.7 1375.9 504.3C1378.4 506.0 1381.0 507.5 1383.5 509.0C1386.1 510.6 1388.8 512.0 1391.4 513.4C1394.1 514.7 1396.8 516.1 1399.5 517.3C1402.2 518.5 1405.0 519.7 1407.8 520.8C1410.5 521.9 1413.4 522.9 1416.2 523.9C1419.0 524.8 1421.9 525.7 1424.8 526.5C1427.7 527.4 1430.6 528.1 1433.5 528.8C1436.4 529.5 1439.3 530.1 1442.3 530.6C1445.2 531.1 1448.2 531.6 1451.1 532.0C1454.1 532.3 1457.1 532.6 1460.0 532.9C1462.9 533.2 1465.8 533.4 1468.6 533.5C1471.4 533.6 1475.0 533.7 1476.8 533.8C1478.6 533.8 1478.6 533.8 1479.5 533.8C1480.4 533.8 1480.4 533.8 1482.2 533.8C1484.0 533.7 1487.6 533.6 1490.4 533.5C1493.2 533.4 1496.1 533.2 1499.0 532.9C1501.9 532.6 1504.9 532.3 1507.9 532.0C1510.8 531.6 1513.8 531.1 1516.7 530.6C1519.7 530.1 1522.6 529.5 1525.5 528.8C1528.4 528.1 1531.3 527.4 1534.2 526.5C1537.1 525.7 1540.0 524.8 1542.8 523.9C1545.6 522.9 1548.5 521.9 1551.2 520.8C1554.0 519.7 1556.8 518.5 1559.5 517.3C1562.2 516.1 1564.9 514.7 1567.6 513.4C1570.2 512.0 1572.9 510.6 1575.5 509.0C1578.0 507.5 1580.6 506.0 1583.1 504.3C1585.6 502.7 1588.1 501.0 1590.4 499.2C1592.8 497.4 1595.2 495.5 1597.4 493.6C1599.7 491.6 1601.8 489.6 1603.9 487.5C1606.0 485.3 1608.1 483.1 1610.0 480.9C1612.0 478.6 1613.9 476.3 1615.7 473.9C1617.5 471.5 1619.2 469.1 1620.9 466.6C1622.6 464.2 1624.2 461.6 1625.8 459.1C1627.3 456.5 1628.8 453.9 1630.3 451.3C1631.8 448.7 1633.2 446.1 1634.6 443.4C1636.0 440.8 1637.4 438.1 1638.7 435.4C1639.9 432.7 1641.1 430.0 1642.2 427.2C1643.4 424.4 1644.4 421.6 1645.3 418.8C1646.2 415.9 1647.1 413.1 1647.9 410.2C1648.7 407.3 1649.4 404.4 1650.0 401.5C1650.7 398.5 1651.3 395.6 1651.8 392.7C1652.4 389.7 1652.8 386.7 1653.2 383.8C1653.6 380.8 1653.9 377.8 1654.1 374.9C1654.3 371.9 1654.4 368.9 1654.4 365.9C1654.5 362.9 1654.4 359.9 1654.3 356.9C1654.1 353.9 1653.9 350.9 1653.5 348.0C1653.2 345.0 1652.8 342.0 1652.3 339.1C1651.7 336.2 1651.1 333.2 1650.4 330.3C1649.7 327.5 1648.8 324.6 1647.9 321.7C1647.0 318.9 1645.9 316.1 1644.8 313.3C1643.7 310.5 1642.5 307.8 1641.2 305.1C1640.0 302.4 1638.6 299.7 1637.2 297.1C1635.8 294.5 1634.3 291.9 1632.7 289.3C1631.1 286.8 1629.5 284.3 1627.8 281.8C1626.0 279.4 1624.2 277.0 1622.4 274.6C1620.5 272.3 1618.6 270.1 1616.6 267.8C1614.6 265.6 1612.5 263.4 1610.5 261.2C1608.4 259.0 1606.4 256.9 1604.3 254.7C1602.2 252.5 1600.2 250.3 1598.1 248.2C1596.0 246.0 1594.0 243.8 1591.9 241.7C1589.7 239.6 1587.6 237.5 1585.4 235.4C1583.2 233.4 1581.0 231.4 1578.7 229.5C1576.4 227.6 1574.2 225.6 1571.8 223.9C1569.4 222.2 1566.9 220.6 1564.3 219.4C1561.6 218.2 1558.7 217.3 1555.8 216.7C1553.0 216.1 1550.0 215.8 1547.0 215.8C1544.1 215.9 1541.1 216.4 1538.3 217.2C1535.5 218.1 1532.8 219.6 1530.3 221.1C1527.8 222.7 1525.4 224.5 1523.2 226.5C1520.9 228.5 1518.9 230.7 1517.0 233.0C1515.0 235.3 1513.3 237.7 1511.5 240.1C1509.7 242.6 1508.1 245.0 1506.5 247.6C1504.9 250.1 1503.4 252.7 1501.9 255.4C1500.5 258.0 1499.2 260.7 1497.9 263.4C1496.6 266.1 1495.3 268.8 1494.1 271.5C1492.8 274.3 1491.6 277.0 1490.5 279.8C1489.3 282.5 1488.1 285.3 1487.1 288.1C1486.0 290.9 1485.1 293.8 1484.1 296.6C1483.2 299.5 1482.4 302.4 1481.7 305.3C1480.9 308.2 1479.9 312.5 1479.5 314.0Z" fill="#808080"/>
<path d="M1479.5 322.0C1479.1 320.6 1477.8 316.2 1476.9 313.4C1476.1 310.5 1475.2 307.6 1474.3 304.8C1473.4 301.9 1472.5 299.1 1471.4 296.3C1470.3 293.5 1469.2 290.7 1467.9 288.0C1466.7 285.2 1465.4 282.5 1464.0 279.9C1462.6 277.2 1461.2 274.6 1459.5 272.1C1457.8 269.6 1456.1 267.1 1454.0 265.0C1452.0 262.9 1449.6 260.9 1447.1 259.5C1444.6 258.1 1441.7 257.0 1438.8 256.4C1436.0 255.7 1432.9 255.5 1430.0 255.6C1427.0 255.7 1424.0 256.3 1421.2 257.0C1418.3 257.8 1415.5 258.9 1412.8 260.1C1410.0 261.3 1407.4 262.7 1404.8 264.2C1402.2 265.7 1399.6 267.3 1397.1 268.9C1394.7 270.6 1392.2 272.4 1389.9 274.3C1387.6 276.1 1385.3 278.1 1383.1 280.1C1380.9 282.1 1378.8 284.3 1376.9 286.5C1374.9 288.8 1373.1 291.2 1371.4 293.6C1369.8 296.1 1368.2 298.7 1366.8 301.3C1365.4 303.9 1364.2 306.6 1363.0 309.3C1361.9 312.1 1360.9 314.9 1360.0 317.7C1359.1 320.6 1358.3 323.5 1357.7 326.4C1357.1 329.3 1356.6 332.2 1356.2 335.2C1355.9 338.2 1355.6 341.1 1355.5 344.1C1355.4 347.1 1355.5 350.1 1355.6 353.1C1355.7 356.1 1356.0 359.0 1356.3 362.0C1356.6 365.0 1357.0 368.0 1357.5 370.9C1358.0 373.9 1358.5 376.8 1359.2 379.7C1359.8 382.6 1360.5 385.5 1361.4 388.4C1362.2 391.3 1363.1 394.1 1364.2 396.9C1365.3 399.6 1366.5 402.4 1367.8 405.0C1369.1 407.7 1370.6 410.3 1372.1 412.9C1373.6 415.4 1375.3 417.9 1376.9 420.4C1378.6 422.9 1380.3 425.4 1382.1 427.8C1383.9 430.2 1385.7 432.5 1387.7 434.8C1389.6 437.1 1391.6 439.3 1393.7 441.4C1395.8 443.5 1398.0 445.6 1400.3 447.5C1402.5 449.4 1404.9 451.3 1407.3 453.0C1409.7 454.7 1412.2 456.4 1414.8 457.9C1417.4 459.4 1420.0 460.8 1422.7 462.1C1425.4 463.3 1428.1 464.5 1430.9 465.5C1433.7 466.6 1436.6 467.5 1439.4 468.3C1442.3 469.1 1445.2 469.8 1448.1 470.4C1451.0 471.0 1454.0 471.5 1456.9 471.9C1459.9 472.2 1462.8 472.5 1465.7 472.8C1468.5 473.0 1471.8 473.1 1474.1 473.2C1476.4 473.3 1477.7 473.3 1479.5 473.3C1481.3 473.3 1482.6 473.3 1484.9 473.2C1487.2 473.1 1490.5 473.0 1493.3 472.8C1496.2 472.5 1499.1 472.2 1502.1 471.9C1505.0 471.5 1508.0 471.0 1510.9 470.4C1513.8 469.8 1516.7 469.1 1519.6 468.3C1522.4 467.5 1525.3 466.6 1528.1 465.5C1530.9 464.5 1533.6 463.3 1536.3 462.1C1539.0 460.8 1541.6 459.4 1544.2 457.9C1546.8 456.4 1549.3 454.7 1551.7 453.0C1554.1 451.3 1556.5 449.4 1558.7 447.5C1561.0 445.6 1563.2 443.5 1565.3 441.4C1567.4 439.3 1569.4 437.1 1571.3 434.8C1573.3 432.5 1575.1 430.2 1576.9 427.8C1578.7 425.4 1580.4 422.9 1582.1 420.4C1583.7 417.9 1585.4 415.4 1586.9 412.9C1588.4 410.3 1589.9 407.7 1591.2 405.0C1592.5 402.4 1593.7 399.6 1594.8 396.9C1595.9 394.1 1596.8 391.3 1597.6 388.4C1598.5 385.5 1599.2 382.6 1599.8 379.7C1600.5 376.8 1601.0 373.9 1601.5 370.9C1602.0 368.0 1602.4 365.0 1602.7 362.0C1603.0 359.0 1603.3 356.1 1603.4 353.1C1603.5 350.1 1603.6 347.1 1603.5 344.1C1603.4 341.1 1603.1 338.2 1602.8 335.2C1602.4 332.2 1601.9 329.3 1601.3 326.4C1600.7 323.5 1599.9 320.6 1599.0 317.7C1598.1 314.9 1597.1 312.1 1596.0 309.3C1594.8 306.6 1593.6 303.9 1592.2 301.3C1590.8 298.7 1589.2 296.1 1587.6 293.6C1585.9 291.2 1584.1 288.8 1582.1 286.5C1580.2 284.3 1578.1 282.1 1575.9 280.1C1573.7 278.1 1571.4 276.1 1569.1 274.3C1566.8 272.4 1564.3 270.6 1561.9 268.9C1559.4 267.3 1556.8 265.7 1554.2 264.2C1551.6 262.7 1549.0 261.3 1546.2 260.1C1543.5 258.9 1540.7 257.8 1537.8 257.0C1535.0 256.3 1532.0 255.7 1529.0 255.6C1526.1 255.5 1523.0 255.7 1520.2 256.4C1517.3 257.0 1514.4 258.1 1511.9 259.5C1509.4 260.9 1507.0 262.9 1505.0 265.0C1502.9 267.1 1501.2 269.6 1499.5 272.1C1497.8 274.6 1496.4 277.2 1495.0 279.9C1493.6 282.5 1492.3 285.2 1491.1 288.0C1489.8 290.7 1488.7 293.5 1487.6 296.3C1486.5 299.1 1485.6 301.9 1484.7 304.8C1483.8 307.6 1482.9 310.5 1482.1 313.4C1481.2 316.2 1479.9 320.6 1479.5 322.0Z" fill="#4d4d4d"/>
<path d="M1479.5 328.0C1478.9 326.6 1477.0 322.6 1475.7 319.9C1474.4 317.1 1473.2 314.4 1471.8 311.7C1470.5 309.1 1469.1 306.4 1467.5 303.8C1466.0 301.3 1464.5 298.5 1462.4 296.5C1460.4 294.5 1458.0 292.4 1455.4 291.7C1452.8 290.9 1449.8 291.4 1447.0 292.0C1444.2 292.7 1441.5 294.2 1438.8 295.6C1436.2 297.0 1433.7 298.7 1431.3 300.5C1429.0 302.3 1426.8 304.4 1424.7 306.5C1422.5 308.6 1420.5 310.8 1418.6 313.1C1416.7 315.4 1414.8 317.8 1413.2 320.3C1411.5 322.7 1410.0 325.3 1408.6 328.0C1407.3 330.7 1406.1 333.4 1405.1 336.2C1404.1 339.1 1403.3 342.0 1402.7 344.9C1402.2 347.8 1401.8 350.8 1401.6 353.8C1401.4 356.8 1401.5 359.8 1401.6 362.7C1401.8 365.7 1402.1 368.7 1402.6 371.6C1403.1 374.5 1403.8 377.4 1404.7 380.3C1405.6 383.1 1406.6 385.9 1407.9 388.5C1409.2 391.1 1410.7 393.7 1412.4 396.1C1414.0 398.5 1415.9 400.7 1418.0 402.9C1420.0 405.0 1422.2 407.0 1424.5 408.8C1426.8 410.6 1429.3 412.3 1431.8 413.8C1434.4 415.3 1437.0 416.7 1439.7 417.9C1442.4 419.2 1445.2 420.2 1448.0 421.2C1450.8 422.2 1453.7 423.1 1456.6 423.8C1459.4 424.5 1462.3 425.1 1465.2 425.6C1468.1 426.1 1471.4 426.5 1473.8 426.7C1476.2 426.9 1477.6 426.9 1479.5 426.9C1481.4 426.9 1482.8 426.9 1485.2 426.7C1487.6 426.5 1490.9 426.1 1493.8 425.6C1496.7 425.1 1499.6 424.5 1502.4 423.8C1505.3 423.1 1508.2 422.2 1511.0 421.2C1513.8 420.2 1516.6 419.2 1519.3 417.9C1522.0 416.7 1524.6 415.3 1527.2 413.8C1529.7 412.3 1532.2 410.6 1534.5 408.8C1536.8 407.0 1539.0 405.0 1541.0 402.9C1543.1 400.7 1545.0 398.5 1546.6 396.1C1548.3 393.7 1549.8 391.1 1551.1 388.5C1552.4 385.9 1553.4 383.1 1554.3 380.3C1555.2 377.4 1555.9 374.5 1556.4 371.6C1556.9 368.7 1557.2 365.7 1557.4 362.7C1557.5 359.8 1557.6 356.8 1557.4 353.8C1557.2 350.8 1556.8 347.8 1556.3 344.9C1555.7 342.0 1554.9 339.1 1553.9 336.2C1552.9 333.4 1551.7 330.7 1550.4 328.0C1549.0 325.3 1547.5 322.7 1545.8 320.3C1544.2 317.8 1542.3 315.4 1540.4 313.1C1538.5 310.8 1536.5 308.6 1534.3 306.5C1532.2 304.4 1530.0 302.3 1527.7 300.5C1525.3 298.7 1522.8 297.0 1520.2 295.6C1517.5 294.2 1514.8 292.7 1512.0 292.0C1509.2 291.4 1506.2 290.9 1503.6 291.7C1501.0 292.4 1498.6 294.5 1496.6 296.5C1494.5 298.5 1493.0 301.3 1491.5 303.8C1489.9 306.4 1488.5 309.1 1487.2 311.7C1485.8 314.4 1484.6 317.1 1483.3 319.9C1482.0 322.6 1480.1 326.6 1479.5 328.0Z" fill="#1e1e1e"/>
<path d="M1101.7 52.5V857.5M1196.4 52.5V857.5M1290.5 52.5V857.5M1385.3 52.5V857.5M1573.5 52.5V857.5M1668 52.5V857.5M1762.3 52.5V857.5M1857 52.5V857.5M1007.5 147.5H1891.5M1007.5 243.5H1891.5M1007.5 434.3H1891.5M1007.5 530.3H1891.5M1007.5 625.5H1891.5M1007.5 721H1891.5M1007.5 816.5H1891.5" stroke="#000" stroke-width="1" fill="none" shape-rendering="crispEdges"/>
<path d="M1479.5 52.5V857.5M1007.5 339.4H1891.5" stroke="#000" stroke-width="3" fill="none" shape-rendering="crispEdges"/>
<rect x="1007.5" y="52.5" width="944" height="1215" fill="none" stroke="#000" stroke-width="3"/>
<rect x="1006" y="1008" width="947" height="261" fill="#000"/>
<g class="k">
<text transform="translate(1020.62 880.73) scale(1.1604 1)" font-size="26.6">(x)</text>
<text transform="translate(1899.53 880.73) scale(1.0924 1)" font-size="26.6">(m)</text>
<text transform="translate(1903.91 89.03) scale(1.1676 1)" font-size="26.6">(y)</text>
<text transform="translate(1073.19 885.13) scale(1.0728 1)" font-size="26.6">-0.6</text>
<text transform="translate(1165.41 885.13) scale(1.0567 1)" font-size="26.6">-0.5</text>
<text transform="translate(1259.2 885.13) scale(1.0636 1)" font-size="26.6">-0.3</text>
<text transform="translate(1353.98 885.13) scale(1.0817 1)" font-size="26.6">-0.2</text>
<text transform="translate(1472.37 885.13) scale(1.0381 1)" font-size="26.6">0</text>
<text transform="translate(1554.37 885.13) scale(1.0398 1)" font-size="26.6">0.2</text>
<text transform="translate(1649.38 885.13) scale(1.0261 1)" font-size="26.6">0.3</text>
<text transform="translate(1745.45 885.13) scale(1.0519 1)" font-size="26.6">0.5</text>
<text transform="translate(1837.45 885.13) scale(1.0519 1)" font-size="26.6">0.6</text>
<text transform="translate(1896.47 163.13) scale(1.0842 1)" font-size="26.6">-0.3</text>
<text transform="translate(1896.47 255.53) scale(1.0909 1)" font-size="26.6">-0.2</text>
<text transform="translate(1897.18 350.13) scale(1.0225 1)" font-size="26.6">0</text>
<text transform="translate(1897.14 445.53) scale(1.0658 1)" font-size="26.6">0.2</text>
<text transform="translate(1900.65 539.23) scale(1.0577 1)" font-size="26.6">0.3</text>
<text transform="translate(1900.65 634.73) scale(1.0577 1)" font-size="26.6">0.5</text>
<text transform="translate(1900.65 728.53) scale(1.0577 1)" font-size="26.6">0.6</text>
<text transform="translate(1900.65 824.03) scale(1.0577 1)" font-size="26.6">0.8</text>
<rect x="1028" y="922" width="46" height="45" fill="#1e1e1e"/>
<text transform="translate(1078.33 937.93) scale(1.0732 1)" font-size="26.6">573.8 Lx</text>
<text transform="translate(1077.75 970.53) scale(1.0773 1)" font-size="26.6">(80.0%)</text>
<rect x="1211.7" y="922" width="46" height="45" fill="#4d4d4d"/>
<text transform="translate(1261.9 937.93) scale(1.0765 1)" font-size="26.6">430.3 Lx</text>
<text transform="translate(1260.75 970.53) scale(1.0773 1)" font-size="26.6">(60.0%)</text>
<rect x="1398" y="922" width="46" height="45" fill="#808080"/>
<text transform="translate(1447.03 937.93) scale(1.0811 1)" font-size="26.6">286.9 Lx</text>
<text transform="translate(1446.76 970.53) scale(1.0739 1)" font-size="26.6">(40.0%)</text>
<rect x="1588" y="922" width="46" height="45" fill="#c6c6c6"/>
<text transform="translate(1639.14 937.93) scale(1.0712 1)" font-size="26.6">143.4 Lx</text>
<text transform="translate(1637.58 970.53) scale(1.0628 1)" font-size="26.6">(20.0%)</text>
<rect x="1772" y="922" width="46" height="45" fill="#e5e5e5"/>
<text transform="translate(1823.35 937.93) scale(1.0671 1)" font-size="26.6">71.72 Lx</text>
<text transform="translate(1822.07 970.53) scale(1.0695 1)" font-size="26.6">(10.0%)</text>
</g>
<text transform="translate(1035.65 1064.1) scale(1.0569 1)" font-size="28.9" fill="#fff">ISOLUX ILLUMINANCE DIAGRAM</text>
<text transform="translate(1036.83 1117.3) scale(1.0529 1)" font-size="39.6" font-weight="bold" fill="#fff">GANL-PLD5110</text>
<text transform="translate(1036.17 1159.3) scale(1.085 1)" font-size="28" fill="#fff">POWER INPUT</text>
<text transform="translate(1119.68 1194.2) scale(1.0794 1)" font-size="28" fill="#fff">LUMENS</text>
<text transform="translate(1098.07 1230.4) scale(1.0865 1)" font-size="28" fill="#fff">EFFICACY</text>
<rect x="1285.6" y="1140.4" width="1" height="92" fill="#fff"/>
<text transform="translate(1321.9 1159.58) scale(1.1028 1)" font-size="27.8" fill="#fff" class="v">4.33 (W)</text>
<text transform="translate(1320.96 1194.68) scale(1.1222 1)" font-size="27.8" fill="#fff" class="v">253.93 (lm)</text>
<text transform="translate(1321.26 1230.38) scale(1.1304 1)" font-size="27.8" fill="#fff" class="v">58.6 (lm/W)</text>
</svg>
</body>
</html>
